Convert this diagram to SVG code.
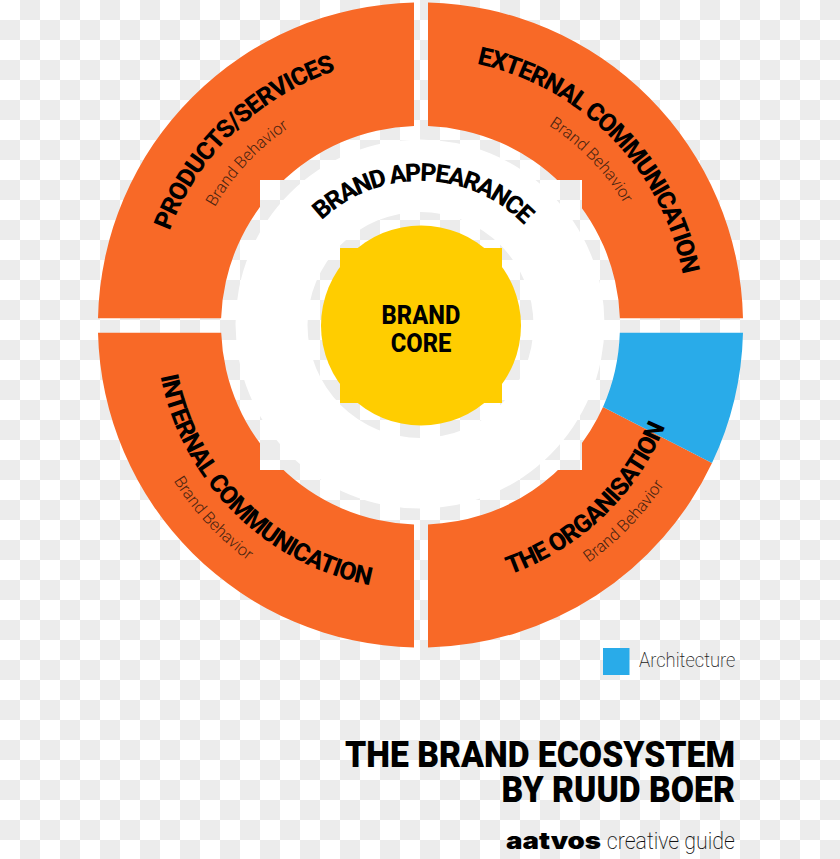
<svg xmlns="http://www.w3.org/2000/svg" xmlns:xlink="http://www.w3.org/1999/xlink" width="840" height="859" viewBox="0 0 840 859">
  <style>
    .seg { fill: #f86927; }
    .head { font-family: Roboto, "Liberation Sans", sans-serif; font-weight: 800; font-size: 25px; letter-spacing: -1.3px; fill: #000; text-anchor: middle; }
    .loose { letter-spacing: -0.95px; }
    .tight { letter-spacing: -1.75px; }
    .core { font-family: Roboto, "Liberation Sans", sans-serif; font-weight: 800; font-size: 25px; fill: #000; text-anchor: middle; }
    .sub { font-family: Roboto, "Liberation Sans", sans-serif; font-weight: 300; font-size: 16.5px; fill: #4a2410; text-anchor: middle; }
    .title { font-family: Roboto, "Liberation Sans", sans-serif; font-weight: 900; font-size: 37px; fill: #000; text-anchor: end; }
  </style>
  <defs>
    <pattern id="checker" width="40" height="40" patternUnits="userSpaceOnUse">
      <rect width="40" height="40" fill="#fff"/>
      <rect x="20" y="0" width="20" height="20" fill="#ececec"/>
      <rect x="0" y="20" width="20" height="20" fill="#ececec"/>
    </pattern>
    <clipPath id="outsideBox">
      <path clip-rule="evenodd" d="M0 0H840V859H0Z M260 180H582V470H260Z"/>
    </clipPath>
    <path id="arcProducts" d="M152.5 320.3A268 268 0 0 1 425.2 57"/>
    <path id="arcProductsSub" d="M183.6 333.3A237 237 0 0 1 412.2 88.1"/>
    <path id="arcExternal" d="M422.8 58A267 267 0 0 1 687.5 327.3"/>
    <path id="arcExternalSub" d="M424.6 88A237 237 0 0 1 657.5 329.1"/>
    <path id="arcInternal" d="M155.5 325A265 265 0 0 0 420.5 590"/>
    <path id="arcInternalSub" d="M128.7 314.8A292 292 0 0 0 410.3 616.8"/>
    <path id="arcOrganisation" d="M413.6 589.9A265 265 0 0 0 685.4 331.9"/>
    <path id="arcOrganisationSub" d="M425.6 616A291 291 0 0 0 711.5 319.9"/>
    <path id="arcAppearance" d="M297.1 250.8A144 144 0 0 1 546.4 255.2"/>
  </defs>

  <!-- transparency grid -->
  <rect width="840" height="859" fill="url(#checker)"/>

  <!-- brand behavior quadrants -->
  <g clip-path="url(#outsideBox)">
    <path id="shapeProducts" class="seg" d="M98 318.3A322.5 322.5 0 0 1 414 2.6V126A199.5 199.5 0 0 0 221.1 318.3Z"/>
    <path id="shapeExternal" class="seg" d="M428 2.6A322.5 322.5 0 0 1 743 318.3H619.9A199.5 199.5 0 0 0 428 126Z"/>
    <path id="shapeInternal" class="seg" d="M98 332.7H221.2A199.5 199.5 0 0 0 414 524.4V647.4A322.5 322.5 0 0 1 98 332.7Z"/>
    <path id="shapeOrganisation" class="seg" d="M428 524.4A199.5 199.5 0 0 0 603 407L712 463A322.5 322.5 0 0 1 428 647.4Z"/>
    <path id="shapeArchitecture" fill="#29abe9" d="M619.8 332.7H743A322.5 322.5 0 0 1 712 463L603 407A199.5 199.5 0 0 0 619.8 332.7Z"/>
  </g>

  <!-- brand appearance ring -->
  <g id="brand-appearance">
    <path fill="#fff" fill-rule="evenodd" d="M235.5 324a184.5 184.5 0 1 0 369 0a184.5 184.5 0 1 0 -369 0Z M307.500 325a113 113 0 1 0 226 0a113 113 0 1 0 -226 0Z"/>
    <text class="head tight"><textPath xlink:href="#arcAppearance" href="#arcAppearance" startOffset="50%">BRAND APPEARANCE</textPath></text>
  </g>

  <!-- brand core -->
  <g id="brand-core">
    <rect x="340" y="248" width="162" height="155" fill="#ffcd00"/>
    <circle cx="421" cy="325.5" r="100" fill="#ffcd00"/>
    <text class="core" transform="translate(421 324) scale(.95 1)">BRAND</text>
    <text class="core" transform="translate(421 352) scale(.95 1)">CORE</text>
  </g>

  <g id="products-services">
    <text class="head loose"><textPath xlink:href="#arcProducts" href="#arcProducts" startOffset="50%">PRODUCTS/SERVICES</textPath></text>
    <text class="sub"><textPath xlink:href="#arcProductsSub" href="#arcProductsSub" startOffset="50%">Brand Behavior</textPath></text>
  </g>
  <g id="external-communication">
    <text class="head"><textPath xlink:href="#arcExternal" href="#arcExternal" startOffset="50%">EXTERNAL COMMUNICATION</textPath></text>
    <text class="sub"><textPath xlink:href="#arcExternalSub" href="#arcExternalSub" startOffset="50%">Brand Behavior</textPath></text>
  </g>
  <g id="internal-communication">
    <text class="head loose"><textPath xlink:href="#arcInternal" href="#arcInternal" startOffset="50%">INTERNAL COMMUNICATION</textPath></text>
    <text class="sub"><textPath xlink:href="#arcInternalSub" href="#arcInternalSub" startOffset="50%">Brand Behavior</textPath></text>
  </g>
  <g id="the-organisation">
    <text class="head loose"><textPath xlink:href="#arcOrganisation" href="#arcOrganisation" startOffset="50%">THE ORGANISATION</textPath></text>
    <text class="sub"><textPath xlink:href="#arcOrganisationSub" href="#arcOrganisationSub" startOffset="50%">Brand Behavior</textPath></text>
  </g>

  <!-- legend -->
  <g id="legend">
    <rect x="603" y="648" width="26.500" height="27" fill="#29abe9"/>
    <text transform="translate(639 667) scale(.92 1)" font-family="Roboto, 'Liberation Sans', sans-serif" font-weight="200" font-size="20px" fill="#222">Architecture</text>
  </g>

  <!-- title block -->
  <g id="title">
    <text class="title" transform="translate(735 767) scale(.912 1)">THE BRAND ECOSYSTEM</text>
    <text class="title" transform="translate(735 802) scale(.912 1)">BY RUUD BOER</text>
  </g>
  <g id="credit">
    <text transform="translate(506 849) scale(1.15 1)" font-family="Inter, 'Liberation Sans', sans-serif" font-weight="900" font-size="24px" fill="#000">aatvos</text>
    <text transform="translate(735 849) scale(.89 1)" text-anchor="end" font-family="Roboto, 'Liberation Sans', sans-serif" font-weight="200" font-size="24px" fill="#111">creative guide</text>
  </g>
</svg>
